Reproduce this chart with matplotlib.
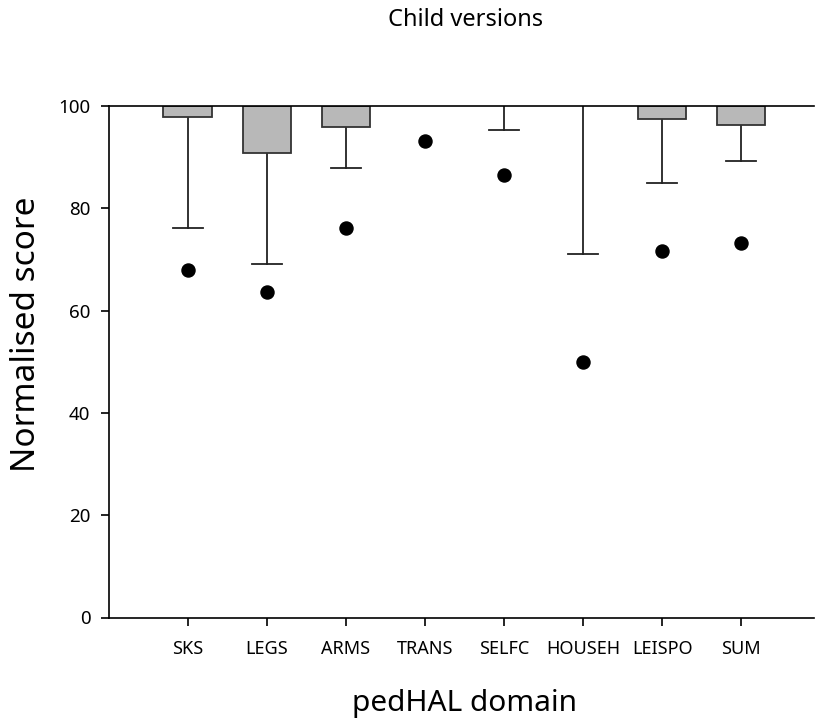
import numpy as np
import matplotlib.pyplot as plt

plt.rcParams['font.family'] = ['Noto Sans', 'DejaVu Sans']

domains = ['SKS', 'LEGS', 'ARMS', 'TRANS', 'SELFC', 'HOUSEH', 'LEISPO', 'SUM']
median = [97.9, 90.8, 95.9, 100.0, 100.0, 100.0, 97.4, 96.2]
whisk_low = [76.1, 69.1, 87.9, 100.0, 95.4, 71.0, 85.0, 89.2]
outlier = [67.9, 63.6, 76.1, 93.2, 86.6, 50.0, 71.7, 73.2]

x = np.arange(1, len(domains) + 1)

fig = plt.figure(figsize=(8.15, 7.21), dpi=100)
ax = fig.add_axes([108.5 / 815, 1 - 617.5 / 721, (814 - 108.5) / 815, (617.5 - 106) / 721])

# bars hang down from 100 to the median (skip the empty ones)
for xi, m in zip(x, median):
    if m < 100:
        ax.bar(xi, 100 - m, bottom=m, width=0.61, color='#b8b8b8',
               edgecolor='#333333', linewidth=1.3, zorder=2)

# lower whiskers with caps
for xi, m, w in zip(x, median, whisk_low):
    if w < m:
        ax.plot([xi, xi], [w, m], color='#222222', lw=1.3, zorder=1)
        ax.plot([xi - 0.19, xi + 0.19], [w, w], color='#222222', lw=1.3, zorder=1)

ax.plot(x, outlier, 'o', color='black', markersize=9.4, linestyle='none', zorder=3)

ax.set_xlim(0, 8.92)
ax.set_ylim(0, 100)
ax.set_yticks([0, 20, 40, 60, 80, 100])
ax.set_xticks(x)
ax.set_xticklabels(domains)
ax.spines['right'].set_visible(False)
for s in ['left', 'bottom', 'top']:
    ax.spines[s].set_linewidth(1.2)
ax.tick_params(axis='y', direction='out', length=6, width=1.2, pad=7, labelsize=13.5)
ax.tick_params(axis='x', direction='out', length=6, width=1.2, pad=10, labelsize=13)

ax.set_ylabel('Normalised score', fontsize=24)
ax.yaxis.set_label_coords(-(108.5 - 27) / 705.5, (617.5 - 334) / 511.5)
ax.set_xlabel('pedHAL domain', fontsize=21.5)
ax.xaxis.set_label_coords((465 - 108.5) / 705.5, -(703 - 617.5) / 511.5)
ax.xaxis.label.set_va('center')
ax.yaxis.label.set_va('center')
fig.text(466 / 815, 1 - 20 / 721, 'Child versions', fontsize=17, ha='center', va='center')

fig.savefig('out.png', dpi=100)
